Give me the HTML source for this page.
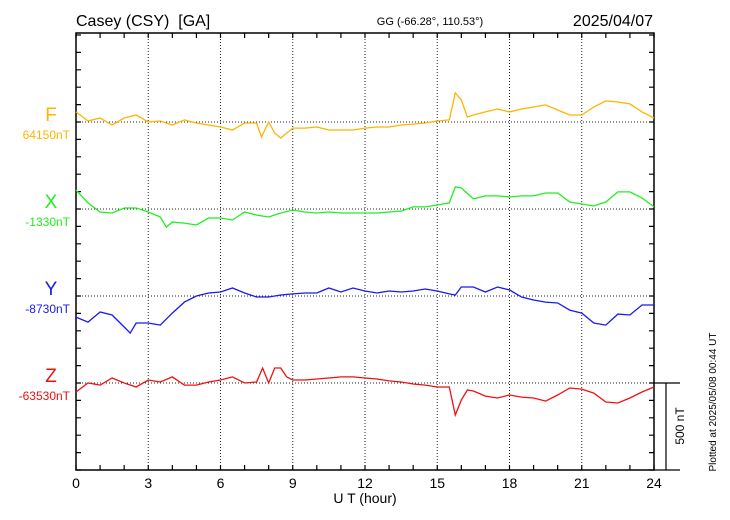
<!DOCTYPE html>
<html><head><meta charset="utf-8"><style>
body{margin:0;background:#fff;}
svg{display:block;font-family:"Liberation Sans",sans-serif;}
</style></head><body>
<svg id="chart" width="730" height="520">
<text x="76" y="26" font-size="16">Casey (CSY)&#160; [GA]</text>
<text x="430" y="25" font-size="11" text-anchor="middle">GG (-66.28°, 110.53°)</text>
<text x="653" y="26" font-size="16" text-anchor="end">2025/04/07</text>
<text x="365" y="503" font-size="14" text-anchor="middle">U T (hour)</text>
<text transform="translate(684,426) rotate(-90)" font-size="12" text-anchor="middle">500 nT</text>
<text transform="translate(716,402) rotate(-90)" font-size="10" text-anchor="middle">Plotted at 2025/05/08 00:44 UT</text>
<g id="grid"></g><g id="axes"></g><g id="series"></g><g id="labels"></g>
</svg>
<script>
const xTicks = [0,3,6,9,12,15,18,21,24];
const fTimes = [0,.5,1,1.5,2,2.5,3,3.5,4,4.5,5,5.5,6,6.5,7,7.5,7.7,8,8.25,8.5,9,9.5,10,10.5,11,11.5,12,12.5,13,13.5,14,14.5,15,15.5,15.75,16,16.25,16.5,17,17.5,18,18.5,19,19.5,20,20.5,21,21.5,22,22.5,23,23.5,24];
const fValues = [58,6,23,-17,23,40,0,6,-17,12,-6,-17,-29,-46,-6,-6,-86,0,-63,-92,-35,-35,-29,-46,-46,-46,-35,-29,-29,-17,-12,-6,6,12,167,127,29,40,58,75,58,75,86,98,69,40,40,86,121,115,104,58,23];
const xTimes = [0,.5,1,1.5,2,2.5,3,3.5,3.75,4,4.5,5,5.5,6,6.5,7,7.5,8,8.5,9,9.5,10,10.5,11,11.5,12,12.5,13,13.5,14,14.5,15,15.5,15.75,16,16.5,17,17.5,18,18.5,19,19.5,20,20.5,21,21.5,22,22.5,23,23.5,24];
const xValues = [109,35,-17,-23,6,6,-17,-46,-104,-75,-81,-92,-52,-52,-63,-17,-35,-46,-23,-6,-17,-23,-17,-23,-23,-23,-23,-17,-12,12,12,23,35,127,121,58,75,75,69,75,75,92,92,40,29,17,40,98,98,63,12];
const yTimes = [0,.5,1,1.5,2,2.25,2.5,3,3.5,4,4.5,5,5.5,6,6.5,7,7.5,8,8.5,9,9.5,10,10.5,11,11.5,12,12.5,13,13.5,14,14.5,15,15.5,15.75,16,16.5,17,17.5,18,18.5,19,19.5,20,20.5,21,21.5,22,22.5,23,23.5,24];
const yValues = [-121,-150,-92,-109,-178,-213,-155,-155,-167,-98,-35,0,17,23,46,17,-6,-6,6,12,17,17,46,23,46,29,17,29,23,29,40,29,12,6,52,52,23,52,35,-6,-23,-35,-40,-81,-98,-155,-167,-104,-109,-52,-52];
const zTimes = [0,.5,1,1.5,2,2.5,3,3.5,4,4.5,5,5.5,6,6.5,7,7.5,7.75,8,8.25,8.5,8.75,9,9.5,10,10.5,11,11.5,12,12.5,13,13.5,14,14.5,15,15.5,15.75,16,16.25,16.5,17,17.5,18,18.5,19,19.5,20,20.5,21,21.5,22,22.5,23,23.5,24];
const zValues = [-52,0,-12,29,0,-23,17,6,35,-12,-12,6,17,35,0,6,86,0,86,86,35,17,17,23,29,35,35,29,23,12,6,-6,-12,-23,-23,-184,-98,-40,-46,-75,-86,-69,-81,-86,-104,-69,-29,-35,-58,-109,-115,-86,-52,-23];
const seriesNames = ["F","X","Y","Z"];
const baseValues = ["64150nT","-1330nT","-8730nT","-63530nT"];

const NS="http://www.w3.org/2000/svg";
const L=76,R=654,T=33,B=470;
const bases=[122,209,296,383];
const colors=["#ffb400","#22ee22","#1a1aee","#ee1111"];
const pxPerNT=87/500;
const xs=h=>L+h*(R-L)/24;
const ys=(i,v)=>bases[i]-v*pxPerNT;
function mk(tag,attrs,parent){const e=document.createElementNS(NS,tag);for(const k in attrs)e.setAttribute(k,attrs[k]);parent.appendChild(e);return e;}
const grid=document.getElementById('grid'),axes=document.getElementById('axes'),ser=document.getElementById('series'),lab=document.getElementById('labels');
xTicks.forEach(h=>{
  if(h>0&&h<24){const g=mk('line',{x1:xs(h),x2:xs(h),y1:T,y2:B,stroke:'#222','stroke-width':1,'stroke-dasharray':'1,2'},grid);
  
  }
  const t=mk('text',{x:xs(h),y:488,'font-size':14,'text-anchor':'middle'},axes);t.textContent=h;
  
  
});
bases.forEach(b=>{const g=mk('line',{x1:L,x2:R,y1:b,y2:b,stroke:'#222','stroke-width':1,'stroke-dasharray':'1,2'},grid);
  
  });
const frame=mk('rect',{x:L,y:T,width:R-L,height:B-T,fill:'none',stroke:'#000','stroke-width':1.5},axes);


let tk='';
for(let h=0;h<=24;h++){const x=xs(h);tk+=`M${x},${B}v-5M${x},${T}v5`;}
for(let y=B;y>=T;y-=87/5){tk+=`M${L},${y}h5M${R},${y}h-5`;}
const ticks=mk('path',{d:tk,stroke:'#000','stroke-width':1.2,fill:'none'},axes);


const sb=mk('path',{d:`M${R},383H680M666,383V470M${R},470H680`,stroke:'#000','stroke-width':1.2,fill:'none'},axes);


const data=[[fTimes,fValues],[xTimes,xValues],[yTimes,yValues],[zTimes,zValues]];
data.forEach((d,i)=>{
  const pts=d[0].map((h,j)=>xs(h).toFixed(1)+','+ys(i,d[1][j]).toFixed(1)).join(' ');
  const p=mk('polyline',{points:pts,fill:'none',stroke:colors[i],'stroke-width':1.3},ser);
  
  
  const t=mk('text',{x:51,y:bases[i]-1,'font-size':19,'text-anchor':'middle',fill:colors[i]},lab);t.textContent=seriesNames[i];
  
  
  const t2=mk('text',{x:70,y:bases[i]+17,'font-size':12,'text-anchor':'end',fill:colors[i]},lab);t2.textContent=baseValues[i];
  
  
});
</script>
</body></html>
